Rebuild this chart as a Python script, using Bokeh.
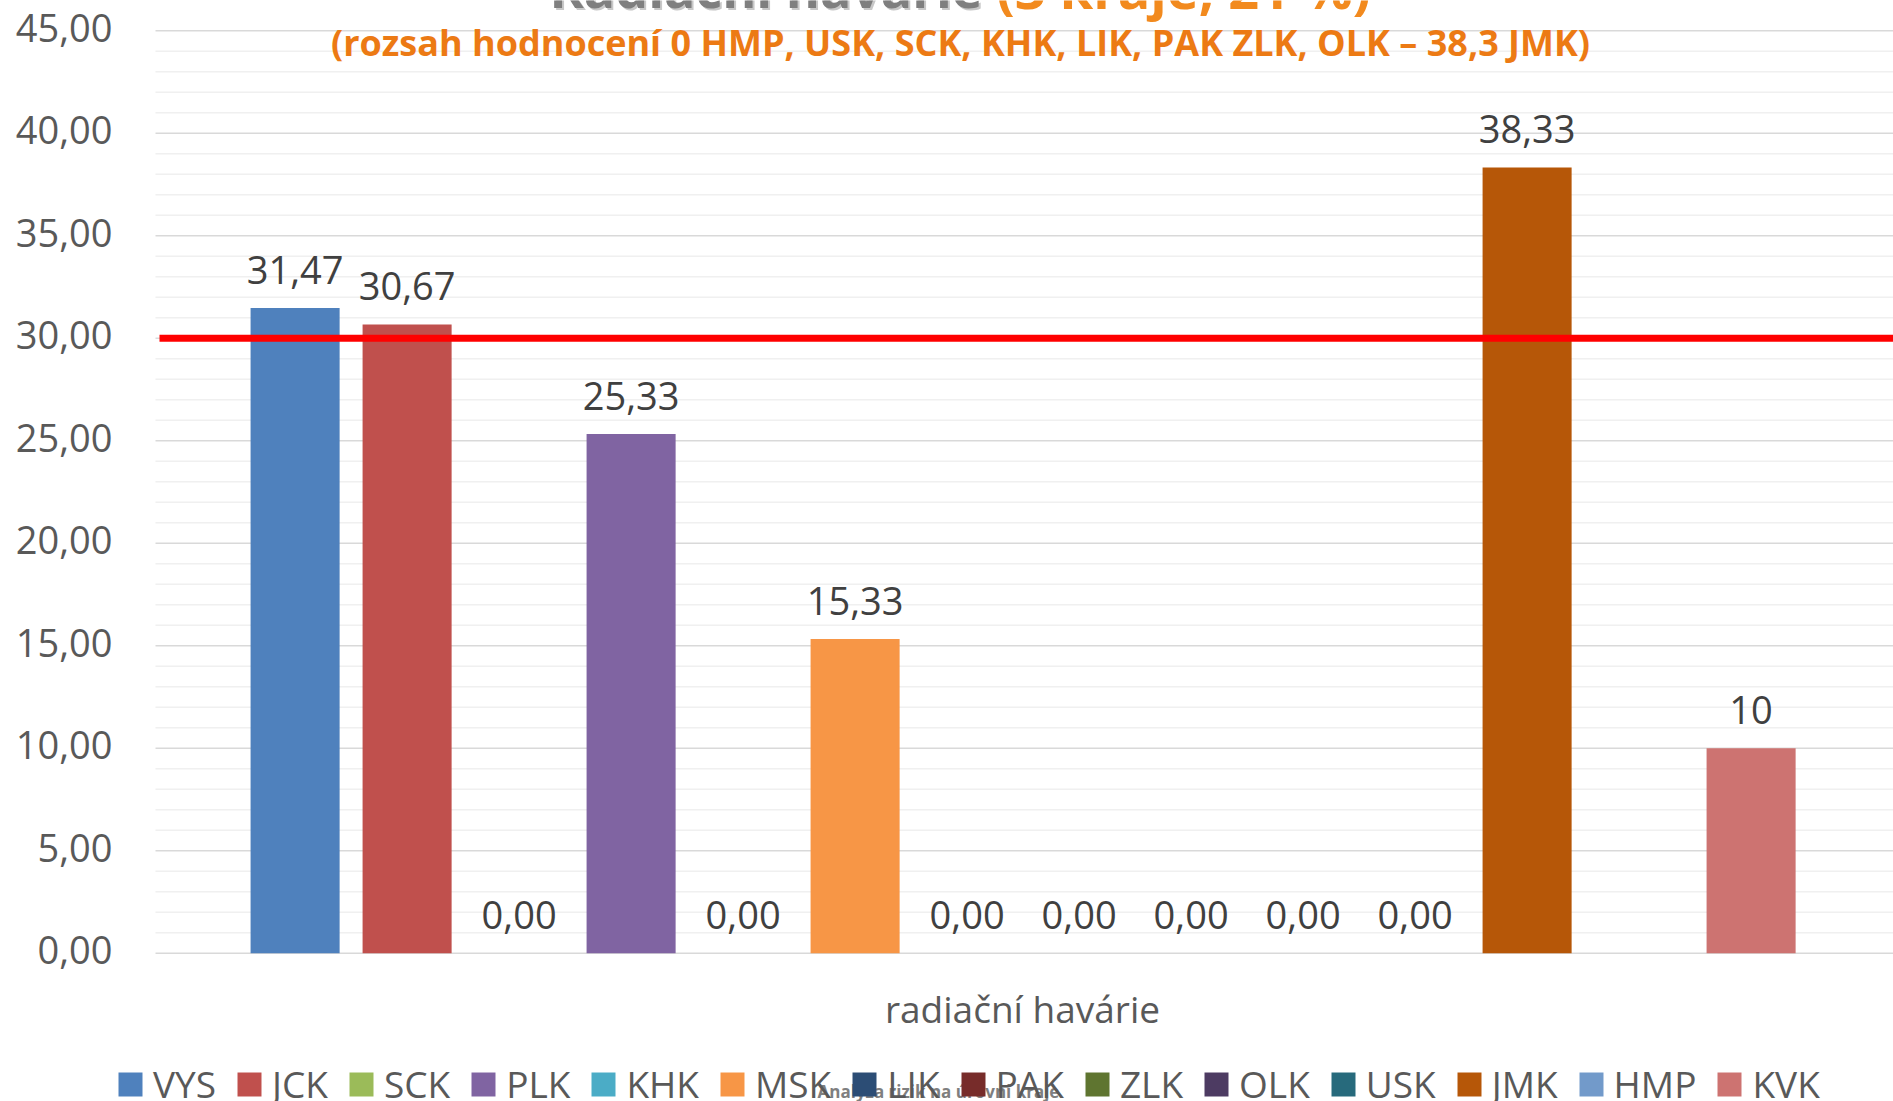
import numpy as np
from bokeh.plotting import figure
from bokeh.models import ColumnDataSource, Legend, LegendItem, Label
from bokeh.core.properties import value
from bokeh.embed import file_html
from bokeh.resources import INLINE

# ---- data ----
regions = ["VYS", "JCK", "SCK", "PLK", "KHK", "MSK", "LIK", "PAK", "ZLK",
           "OLK", "USK", "JMK", "HMP", "KVK"]
scores = [31.47, 30.67, 0.0, 25.33, 0.0, 15.33, 0.0, 0.0, 0.0, 0.0, 0.0,
          38.33, np.nan, 10.0]
score_labels = ["31,47", "30,67", "0,00", "25,33", "0,00", "15,33", "0,00",
                "0,00", "0,00", "0,00", "0,00", "38,33", "", "10"]
colors = ["#4F81BD", "#C0504D", "#9BBB59", "#8064A2", "#4BACC6", "#F79646",
          "#2C4D75", "#772C2A", "#5F7530", "#4D3B62", "#276A7C", "#B65708",
          "#729ACA", "#CD7371"]
threshold = 30.0
y_ticks = [0, 5, 10, 15, 20, 25, 30, 35, 40, 45]
y_minor = [v for v in range(0, 46) if v % 5 != 0]
y_tick_labels = [f"{t:.2f}".replace(".", ",") for t in y_ticks]
category_label = "radiační havárie"
title_main = "Radiační havárie"
title_part = "(3 kraje, 21 %)"
subtitle = "(rozsah hodnocení 0 HMP, USK, SCK, KHK, LIK, PAK ZLK, OLK – 38,3 JMK)"
footer = "Analýza rizik na úrovni kraje"

FONT = "Open Sans"
W, H = 1893, 1101
PX_X = 112.0     # pixels per category
PX_Y = 20.5      # pixels per unit
X0 = -294.6 / PX_X
X1 = X0 + W / PX_X
Y1 = 45 + 30.2 / PX_Y
Y0 = Y1 - H / PX_Y


def dx(px):
    return X0 + px / PX_X


def dy(py):
    return Y1 - py / PX_Y


GRID_LEFT = dx(155)

p = figure(width=W, height=H, x_range=(X0, X1), y_range=(Y0, Y1),
           output_backend="svg", toolbar_location=None, title=None,
           x_axis_type=None, y_axis_type=None,
           min_border_left=0, min_border_right=0, min_border_top=0,
           min_border_bottom=0)
p.outline_line_color = None
p.background_fill_color = "white"
p.border_fill_color = "white"
p.grid.visible = False

# gridlines
p.segment(x0=GRID_LEFT, x1=X1, y0=y_minor, y1=y_minor,
          line_color="#F0F0F0", line_width=1.5)
p.segment(x0=GRID_LEFT, x1=X1, y0=y_ticks, y1=y_ticks,
          line_color="#D9D9D9", line_width=1.5)

# y tick labels
p.text(x=dx(112), y=y_ticks, text=y_tick_labels, text_align="right",
       text_baseline="middle", y_offset=-3, text_font=value(FONT),
       text_font_size="38px", text_color="#595959")

src = ColumnDataSource(dict(x=list(range(len(regions))), top=scores,
                            color=colors, lab=score_labels, name=regions))
bars = p.vbar(x="x", top="top", width=0.795, bottom=0, fill_color="color",
              line_color=None, source=src)

p.text(x="x", y="top", text="lab", source=src, text_align="center",
       text_baseline="alphabetic", y_offset=-38, text_font=value(FONT),
       text_font_size="38px", text_color="#404040")

p.segment(x0=[dx(159)], x1=[X1], y0=[threshold], y1=[threshold],
          line_color="#FF0000", line_width=7)

items = [LegendItem(label=r, renderers=[bars], index=i) for i, r in enumerate(regions)]
legend = Legend(items=items, orientation="horizontal", location=(115, -8),
                glyph_width=30, glyph_height=30, label_standoff=8, spacing=18,
                padding=0, margin=0, border_line_color=None,
                background_fill_alpha=0, label_text_font=FONT,
                label_text_font_size="37px", label_text_color="#595959")
p.add_layout(legend, "center")

# axis label
p.add_layout(Label(x=dx(1022), y=dy(1008), text=category_label,
                   text_align="center", text_baseline="alphabetic",
                   text_font=FONT, text_font_size="37px", text_color="#595959"))

# clipped title at the top
p.add_layout(Label(x=dx(551), y=dy(-11), text=title_main,
                   text_align="left", text_baseline="alphabetic",
                   text_font=FONT, text_font_size="52px", text_font_style="bold",
                   text_color="#C8C8C8"))
p.add_layout(Label(x=dx(549), y=dy(-13), text=title_main,
                   text_align="left", text_baseline="alphabetic",
                   text_font=FONT, text_font_size="52px", text_font_style="bold",
                   text_color="#7F7F7F"))
p.add_layout(Label(x=dx(996), y=dy(-13), text=title_part,
                   text_align="left", text_baseline="alphabetic",
                   text_font=FONT, text_font_size="54px", text_font_style="bold",
                   text_color="#F28A1E"))

# subtitle
p.add_layout(Label(x=dx(960), y=dy(42), text=subtitle,
                   text_align="center", text_baseline="alphabetic",
                   text_font=FONT, text_font_size="36px", text_font_style="bold",
                   text_color="#EC7A14"))

# footer
p.add_layout(Label(x=dx(938), y=dy(1091), text=footer,
                   text_align="center", text_baseline="alphabetic",
                   text_font=FONT, text_font_size="17px", text_font_style="bold",
                   text_color="#7F7F7F"))

open("out.html", "w").write(file_html(p, INLINE))
